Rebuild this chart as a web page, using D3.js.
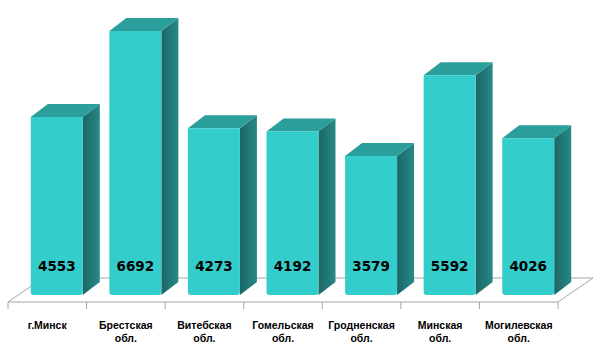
<!DOCTYPE html>
<html>
<head>
<meta charset="utf-8">
<script src="https://cdn.jsdelivr.net/npm/d3@7"></script>
<style>
  body { margin: 0; background: #fff; }
  svg text { font-weight: bold; }
</style>
</head>
<body>
<div class="svg-container"></div>
<script>
// regions and counts
const categories = ['г.Минск', 'Брестская обл.', 'Витебская обл.', 'Гомельская обл.',
  'Гродненская обл.', 'Минская обл.', 'Могилевская обл.'];
const values = [4553, 6692, 4273, 4192, 3579, 5592, 4026];

const svgWidth = 600;
const svgHeight = 353;

const svg = d3.select('.svg-container')
  .append('svg')
  .attr('width', svgWidth)
  .attr('height', svgHeight);

const floor = { left: 8, right: 558, front: 302, dx: 35, dy: -24 };
const depth = { dx: 17, dy: -13 };
const baseY = 295;

const x = d3.scaleBand().domain(categories).range([floor.left, floor.right]).padding(0);
const y = d3.scaleLinear().domain([0, 7000]).range([300, 18.6]);

const bw = x.bandwidth();
const barW = 52;
const shiftX = 9.5;

// side gradient
const defs = svg.append('defs');
const grad = defs.append('linearGradient').attr('id', 'side').attr('x1', 0).attr('x2', 1).attr('y1', 0).attr('y2', 0);
grad.append('stop').attr('offset', 0).attr('stop-color', '#1c6665');
grad.append('stop').attr('offset', 1).attr('stop-color', '#268a87');

// floor
const fl = floor;
svg.append('path')
  .attr('d', `M${fl.left},${fl.front} L${fl.right},${fl.front} L${fl.right + fl.dx},${fl.front + fl.dy} L${fl.left + fl.dx},${fl.front + fl.dy} Z`)
  .attr('fill', '#fff')
  .attr('stroke', '#a6a6a6')
  .attr('stroke-width', 1);

// ticks
const tickXs = categories.map(c => x(c)).concat([floor.right]);
svg.append('g').selectAll('line')
  .data(tickXs)
  .join('line')
  .attr('x1', d => d).attr('x2', d => d)
  .attr('y1', floor.front).attr('y2', floor.front + 7)
  .attr('stroke', '#a6a6a6');

// bars
const bars = svg.append('g').selectAll('g')
  .data(categories.map((c, i) => ({ c, v: values[i] })))
  .join('g');

function fx(d) { return x(d.c) + (bw - barW) / 2 + shiftX; }

bars.append('path') // side
  .attr('d', d => {
    const l = fx(d) + barW, t = y(d.v);
    return `M${l},${t} L${l + depth.dx},${t + depth.dy} L${l + depth.dx},${baseY + depth.dy} L${l},${baseY} Z`;
  })
  .attr('fill', 'url(#side)');

bars.append('path') // top
  .attr('d', d => {
    const l = fx(d), t = y(d.v);
    return `M${l},${t} L${l + depth.dx},${t + depth.dy} L${l + barW + depth.dx},${t + depth.dy} L${l + barW},${t} Z`;
  })
  .attr('fill', '#2a9f9b');

bars.append('path') // front
  .attr('d', d => {
    const l = fx(d), t = y(d.v), r = 3;
    return `M${l},${t} L${l + barW},${t} L${l + barW},${baseY - r} Q${l + barW},${baseY} ${l + barW - r},${baseY} L${l + r},${baseY} Q${l},${baseY} ${l},${baseY - r} Z`;
  })
  .attr('fill', '#33cdcc');

// value labels
bars.append('text')
  .attr('x', d => fx(d) + barW / 2)
  .attr('y', 271)
  .attr('text-anchor', 'middle')
  .attr('font-family', '"DejaVu Sans", sans-serif')
  .attr('font-size', 13.5)
  .attr('fill', '#000')
  .text(d => d.v);

// category labels
const labels = svg.append('g').selectAll('text')
  .data(categories)
  .join('text')
  .attr('x', d => x(d) + bw / 2)
  .attr('y', 329)
  .attr('text-anchor', 'middle')
  .attr('font-family', '"Liberation Sans", Arial, sans-serif')
  .attr('font-size', 10.5)
  .attr('fill', '#000');

labels.each(function(d) {
  const parts = d.split(' ');
  const t = d3.select(this);
  parts.forEach((p, i) => {
    t.append('tspan').attr('x', x(d) + bw / 2).attr('dy', i === 0 ? 0 : 13).text(p);
  });
});
</script>
</body>
</html>
